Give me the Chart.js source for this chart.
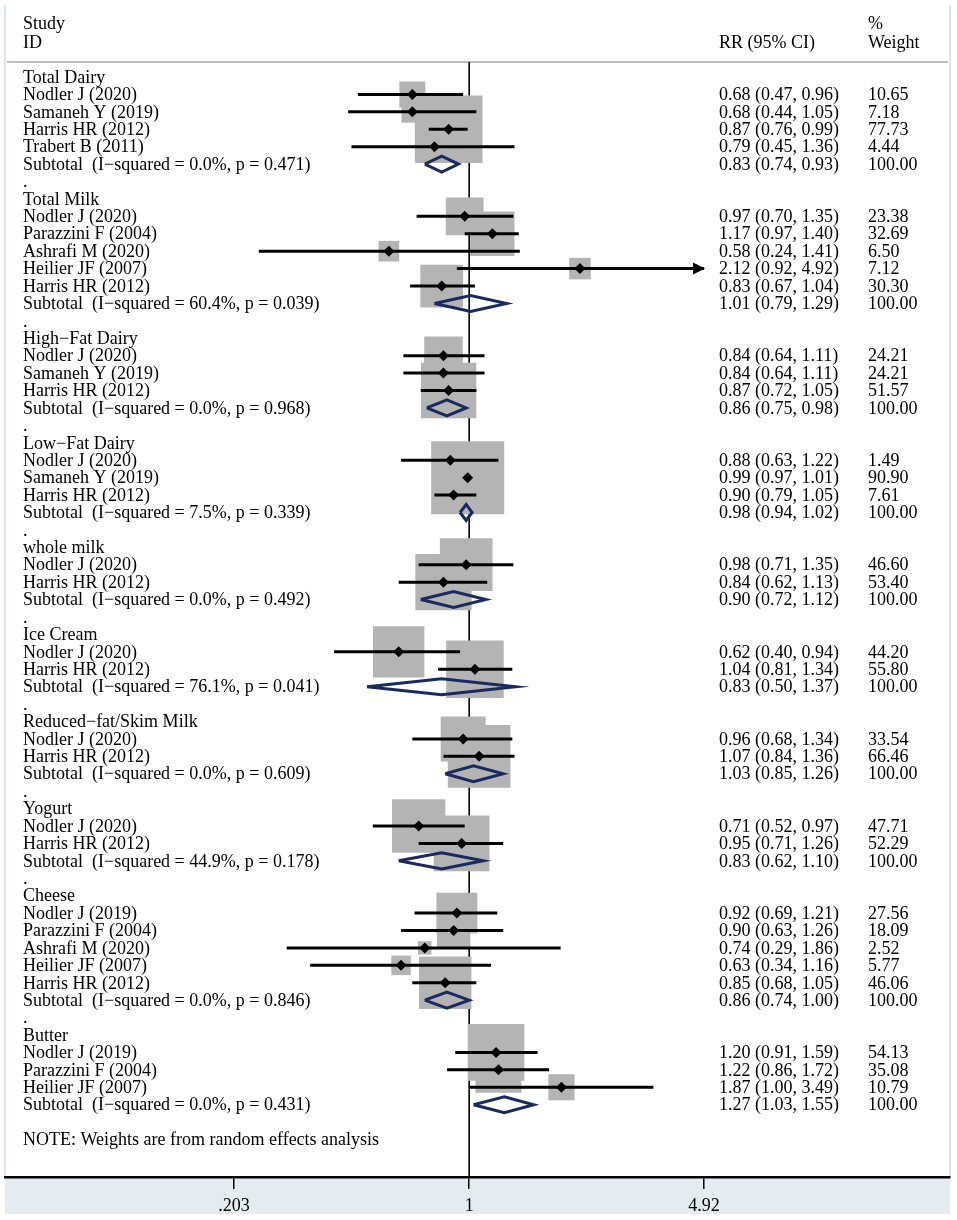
<!DOCTYPE html>
<html>
<head>
<meta charset="utf-8">
<script src="https://cdn.jsdelivr.net/npm/chart.js@4.4.1/dist/chart.umd.min.js"></script>
<style>
  html, body { margin: 0; padding: 0; background: #fff; }
</style>
</head>
<body>
<canvas id="forest" width="957" height="1220"></canvas>
<script>
// one entry per row of the forest plot (group heading, study, subtotal, spacer)
const labels = [
  'Total Dairy', 'Nodler J (2020)', 'Samaneh Y (2019)', 'Harris HR (2012)', 'Trabert B (2011)',
  'Subtotal  (I\u2212squared = 0.0%, p = 0.471)', '.',
  'Total Milk', 'Nodler J (2020)', 'Parazzini F (2004)', 'Ashrafi M (2020)', 'Heilier JF (2007)', 'Harris HR (2012)',
  'Subtotal  (I\u2212squared = 60.4%, p = 0.039)', '.',
  'High\u2212Fat Dairy', 'Nodler J (2020)', 'Samaneh Y (2019)', 'Harris HR (2012)',
  'Subtotal  (I\u2212squared = 0.0%, p = 0.968)', '.',
  'Low\u2212Fat Dairy', 'Nodler J (2020)', 'Samaneh Y (2019)', 'Harris HR (2012)',
  'Subtotal  (I\u2212squared = 7.5%, p = 0.339)', '.',
  'whole milk', 'Nodler J (2020)', 'Harris HR (2012)',
  'Subtotal  (I\u2212squared = 0.0%, p = 0.492)', '.',
  'Ice Cream', 'Nodler J (2020)', 'Harris HR (2012)',
  'Subtotal  (I\u2212squared = 76.1%, p = 0.041)', '.',
  'Reduced\u2212fat/Skim Milk', 'Nodler J (2020)', 'Harris HR (2012)',
  'Subtotal  (I\u2212squared = 0.0%, p = 0.609)', '.',
  'Yogurt', 'Nodler J (2020)', 'Harris HR (2012)',
  'Subtotal  (I\u2212squared = 44.9%, p = 0.178)', '.',
  'Cheese', 'Nodler J (2019)', 'Parazzini F (2004)', 'Ashrafi M (2020)', 'Heilier JF (2007)', 'Harris HR (2012)',
  'Subtotal  (I\u2212squared = 0.0%, p = 0.846)', '.',
  'Butter', 'Nodler J (2019)', 'Parazzini F (2004)', 'Heilier JF (2007)',
  'Subtotal  (I\u2212squared = 0.0%, p = 0.431)', '',
  'NOTE: Weights are from random effects analysis'
];
const rr = [
  null, 0.68, 0.68, 0.87, 0.79, 0.83, null,
  null, 0.97, 1.17, 0.58, 2.12, 0.83, 1.01, null,
  null, 0.84, 0.84, 0.87, 0.86, null,
  null, 0.88, 0.99, 0.90, 0.98, null,
  null, 0.98, 0.84, 0.90, null,
  null, 0.62, 1.04, 0.83, null,
  null, 0.96, 1.07, 1.03, null,
  null, 0.71, 0.95, 0.83, null,
  null, 0.92, 0.90, 0.74, 0.63, 0.85, 0.86, null,
  null, 1.20, 1.22, 1.87, 1.27, null,
  null
];
const lower = [
  null, 0.47, 0.44, 0.76, 0.45, 0.74, null,
  null, 0.70, 0.97, 0.24, 0.92, 0.67, 0.79, null,
  null, 0.64, 0.64, 0.72, 0.75, null,
  null, 0.63, 0.97, 0.79, 0.94, null,
  null, 0.71, 0.62, 0.72, null,
  null, 0.40, 0.81, 0.50, null,
  null, 0.68, 0.84, 0.85, null,
  null, 0.52, 0.71, 0.62, null,
  null, 0.69, 0.63, 0.29, 0.34, 0.68, 0.74, null,
  null, 0.91, 0.86, 1.00, 1.03, null,
  null
];
const upper = [
  null, 0.96, 1.05, 0.99, 1.36, 0.93, null,
  null, 1.35, 1.40, 1.41, 4.92, 1.04, 1.29, null,
  null, 1.11, 1.11, 1.05, 0.98, null,
  null, 1.22, 1.01, 1.05, 1.02, null,
  null, 1.35, 1.13, 1.12, null,
  null, 0.94, 1.34, 1.37, null,
  null, 1.34, 1.36, 1.26, null,
  null, 0.97, 1.26, 1.10, null,
  null, 1.21, 1.26, 1.86, 1.16, 1.05, 1.00, null,
  null, 1.59, 1.72, 3.49, 1.55, null,
  null
];
const weights = [
  null, 10.65, 7.18, 77.73, 4.44, 100, null,
  null, 23.38, 32.69, 6.50, 7.12, 30.30, 100, null,
  null, 24.21, 24.21, 51.57, 100, null,
  null, 1.49, 90.90, 7.61, 100, null,
  null, 46.60, 53.40, 100, null,
  null, 44.20, 55.80, 100, null,
  null, 33.54, 66.46, 100, null,
  null, 47.71, 52.29, 100, null,
  null, 27.56, 18.09, 2.52, 5.77, 46.06, 100, null,
  null, 54.13, 35.08, 10.79, 100, null,
  null
];
const xTicks = [0.203, 1, 4.92];
const xTickLabels = ['.203', '1', '4.92'];

const FONT = '"Liberation Serif", "Times New Roman", serif';
const XMIN = 0.0429, XMAX = 26.1;     // log axis stretched over the whole panel
const YMIN = -4.42, YMAX = 63.15;     // row units, header rows are negative
const HEADER_LINE_ROW = -0.86;
const AXIS_CAP = 4.92;                // CIs reaching this get an arrow

const isSubtotal = i => labels[i].startsWith('Subtotal');
const isStudy = i => rr[i] != null && !isSubtotal(i);
const rows = labels.map((_, i) => i);
const studyRows = rows.filter(isStudy);
const subRows = rows.filter(isSubtotal);

const boxSide = w => 7.5 * Math.sqrt(w) + 1.5;

const datasets = [];
// null line at RR = 1
datasets.push({
  data: [{ x: 1, y: HEADER_LINE_ROW }, { x: 1, y: YMAX }],
  showLine: true, borderColor: '#000', borderWidth: 1.6, pointRadius: 0, order: 6
});
// weight boxes
datasets.push({
  data: studyRows.map(i => ({ x: rr[i], y: i, w: weights[i] })),
  pointStyle: 'rect', backgroundColor: '#b4b4b4', borderWidth: 0,
  pointRadius: ctx => boxSide(ctx.raw.w) / Math.SQRT2, order: 5
});
// confidence intervals
studyRows.forEach(i => {
  datasets.push({
    data: [{ x: lower[i], y: i }, { x: upper[i], y: i }],
    showLine: true, borderColor: '#000', borderWidth: 3, pointRadius: 0, order: 4
  });
});
// point estimates
datasets.push({
  data: studyRows.map(i => ({ x: rr[i], y: i })),
  pointStyle: 'rectRot', pointRadius: 5.5, backgroundColor: '#000', borderWidth: 0, order: 3
});
// subtotal diamonds
subRows.forEach(i => {
  datasets.push({
    data: [
      { x: lower[i], y: i }, { x: rr[i], y: i - 0.46 }, { x: upper[i], y: i },
      { x: rr[i], y: i + 0.46 }, { x: lower[i], y: i }
    ],
    showLine: true, borderColor: '#1a2a5e', borderWidth: 3, pointRadius: 0,
    borderJoinStyle: 'miter', fill: false, order: 2
  });
});

const decor = {
  id: 'decor',
  beforeDraw(chart) {
    const { ctx, chartArea: a } = chart;
    ctx.save();
    ctx.fillStyle = '#fff';
    ctx.fillRect(0, 0, chart.width, chart.height);
    ctx.fillStyle = '#e4ecf0';
    ctx.fillRect(a.left, a.bottom, a.right - a.left, 37);
    ctx.strokeStyle = '#dbe6ec';
    ctx.lineWidth = 2;
    ctx.beginPath();
    ctx.moveTo(a.left, 5); ctx.lineTo(a.left, a.bottom);
    ctx.moveTo(a.right, 5); ctx.lineTo(a.right, a.bottom);
    ctx.stroke();
    // header rule
    const yh = chart.scales.y.getPixelForValue(HEADER_LINE_ROW);
    ctx.strokeStyle = '#a8a8a8';
    ctx.lineWidth = 1.5;
    ctx.beginPath();
    ctx.moveTo(a.left + 2, yh); ctx.lineTo(a.right - 2, yh);
    ctx.stroke();
    ctx.restore();
  },
  afterDatasetsDraw(chart) {
    const { ctx } = chart;
    const xs = chart.scales.x, ys = chart.scales.y;
    ctx.save();
    ctx.fillStyle = '#000';
    studyRows.filter(i => upper[i] >= AXIS_CAP).forEach(i => {
      const px = xs.getPixelForValue(upper[i]);
      const py = ys.getPixelForValue(i);
      ctx.beginPath();
      ctx.moveTo(px + 1, py);
      ctx.lineTo(px - 11, py - 6);
      ctx.lineTo(px - 11, py + 6);
      ctx.closePath();
      ctx.fill();
    });
    ctx.restore();
  },
  afterDraw(chart) {
    const { ctx } = chart;
    const ys = chart.scales.y;
    ctx.save();
    ctx.fillStyle = '#000';
    ctx.font = '18px ' + FONT;
    ctx.textBaseline = 'middle';
    ctx.textAlign = 'left';
    const y = r => ys.getPixelForValue(r) + 1;
    ctx.fillText('Study', 23, y(-3.1));
    ctx.fillText('ID', 23, y(-2));
    ctx.fillText('RR (95% CI)', 719, y(-2));
    ctx.fillText('%', 868, y(-3.1));
    ctx.fillText('Weight', 868, y(-2));
    labels.forEach((t, i) => {
      if (t) ctx.fillText(t, 23, y(i));
      if (rr[i] != null) {
        ctx.fillText(rr[i].toFixed(2) + ' (' + lower[i].toFixed(2) + ', ' + upper[i].toFixed(2) + ')', 719, y(i));
        ctx.fillText(weights[i].toFixed(2), 868, y(i));
      }
    });
    ctx.restore();
  }
};

new Chart(document.getElementById('forest'), {
  type: 'scatter',
  data: { datasets },
  options: {
    responsive: false,
    animation: false,
    layout: { autoPadding: false, padding: { left: 5, right: 7, top: 0, bottom: 0 } },
    plugins: { legend: { display: false }, tooltip: { enabled: false } },
    scales: {
      x: {
        type: 'logarithmic', min: XMIN, max: XMAX,
        afterBuildTicks: s => { s.ticks = xTicks.map(v => ({ value: v })); },
        afterFit: s => { s.height = 43; },
        ticks: {
          callback: (v, i) => xTickLabels[i],
          font: { family: FONT, size: 18 }, color: '#000',
          padding: 6, maxRotation: 0, autoSkip: false
        },
        grid: { drawOnChartArea: false, drawTicks: true, tickLength: 12, color: '#000', lineWidth: 1.5 },
        border: { display: true, color: '#000', width: 2.5 }
      },
      y: { type: 'linear', min: YMIN, max: YMAX, reverse: true, display: false }
    }
  },
  plugins: [decor]
});
</script>
</body>
</html>
